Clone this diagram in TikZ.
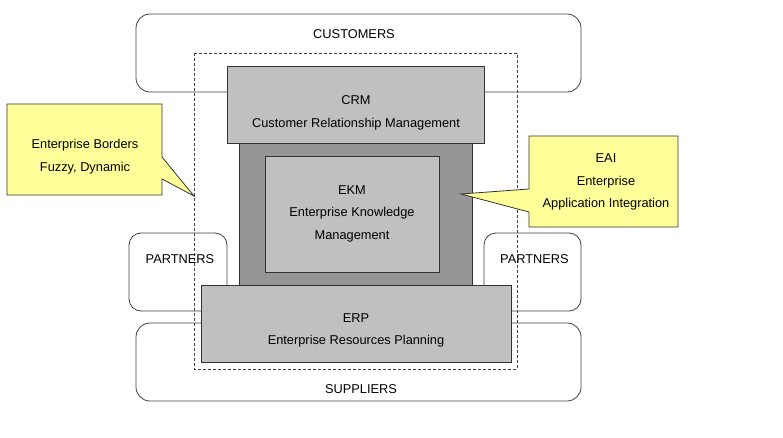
\documentclass[tikz,border=0pt]{standalone}
\usepackage{fontspec}
\setmainfont{Liberation Sans}
\definecolor{lightgrey}{RGB}{192,192,192}
\definecolor{darkgrey}{RGB}{150,150,150}
\definecolor{notecolor}{RGB}{255,255,153}

\begin{document}
\begin{tikzpicture}[x=1pt, y=-1pt, line width=0.8pt,
                    font=\fontsize{12.8}{22.5}\selectfont,
                    outer box/.style={draw=black!75,rounded corners=14pt,inner sep=0pt},
                    partner box/.style={draw=black!75,fill=white,rounded corners=12pt,inner sep=0pt},
                    grey box/.style={draw=black!80,fill=lightgrey,inner sep=0pt},
                    note/.style={draw=black!80,fill=notecolor,line join=miter},
                    label text/.style={align=center,inner sep=0pt}]

  \useasboundingbox (0,0) rectangle (783,438);

  % outer world
  \node[outer box, minimum width=445pt, minimum height=78pt] (customers) at (358.5,53) {};
  \node[outer box, minimum width=445pt, minimum height=78pt] (suppliers) at (358.5,362) {};
  \node[partner box, minimum width=98pt, minimum height=78pt] (partnersL) at (178,272) {};
  \node[partner box, minimum width=97pt, minimum height=78pt] (partnersR) at (532.5,272) {};

  % enterprise borders
  \draw[black!75, dash pattern=on 3pt off 2pt] (194,53) rectangle (517,369);

  % applications
  \node[grey box, fill=darkgrey, minimum width=233pt, minimum height=142pt] (eai) at (355.5,214) {};
  \node[grey box, minimum width=257pt, minimum height=77pt] (crm) at (355.5,104.5) {};
  \node[grey box, minimum width=174pt, minimum height=116pt] (ekm) at (352,214) {};
  \node[grey box, minimum width=310pt, minimum height=77pt] (erp) at (356,323.5) {};

  % call-outs
  \path[note] (7,104) -- (162,104) -- (162,157) -- (194,196) -- (162,179)
    -- (162,195) -- (7,195) -- cycle;
  \path[note] (529,136) -- (678,136) -- (678,227) -- (529,227) -- (529,212)
    -- (461,194) -- (529,189) -- cycle;

  \node[label text] (customersT) at (354,34) {CUSTOMERS};
  \node[label text] (suppliersT) at (361,389) {SUPPLIERS};
  \node[label text] (partnersLT) at (180,259) {PARTNERS};
  \node[label text] (partnersRT) at (534.5,259) {PARTNERS};
  \node[label text] (crmT) at (356,113) {CRM\\Customer Relationship Management};
  \node[label text] (ekmT) at (352,213.5) {EKM\\Enterprise Knowledge\\Management};
  \node[label text] (erpT) at (356,330.5) {ERP\\Enterprise Resources Planning};
  \node[label text] (bordersT) at (85,156.5) {Enterprise Borders\\Fuzzy, Dynamic};
  \node[label text] (eaiT) at (606,182) {EAI\\Enterprise\\Application Integration};
\end{tikzpicture}
\end{document}
